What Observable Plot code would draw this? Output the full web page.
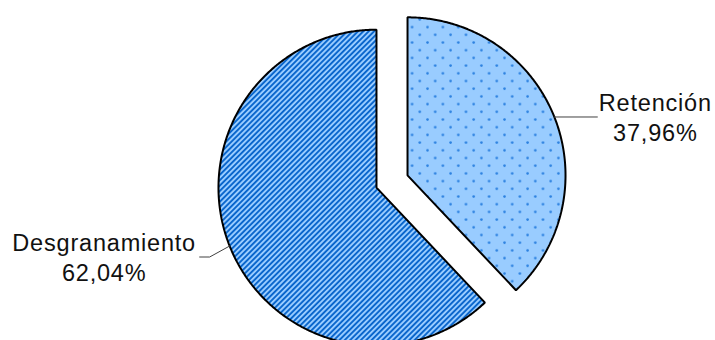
<!DOCTYPE html>
<html><head><meta charset="utf-8">
<script src="https://cdn.jsdelivr.net/npm/d3@7"></script>
<script src="https://cdn.jsdelivr.net/npm/@observablehq/plot@0.6"></script>
<style>html,body{margin:0;padding:0;background:#fff;overflow:hidden}</style>
</head><body><div id="chart"></div>
<script>
// ---- data ----
const categories = ["Retención", "Desgranamiento"];
const values = [37.96, 62.04];
const valueLabels = ["37,96%", "62,04%"];

// ---- layout (pixels) ----
const W = 715, H = 340;
const C = [391.5, 181], R = 158, EXPLODE = 16.7;
const fills = ["url(#dots)", "url(#stripes)"];
const leaderShape = [
  [[0, 0], [43, 0]],
  [[0, 0], [-20, 11], [-30, 11]]
];
const labelOffset = [[101, -27], [-125.5, -16]];

const total = d3.sum(values);
let acc = 0;
const slices = categories.map((name, i) => {
  const a0 = acc / total * 2 * Math.PI;
  acc += values[i];
  const a1 = acc / total * 2 * Math.PI;
  const mid = (a0 + a1) / 2;
  const cx = C[0] + EXPLODE * Math.sin(mid), cy = C[1] - EXPLODE * Math.cos(mid);
  const pts = [{x: cx, y: cy}];
  const n = Math.ceil((a1 - a0) / (Math.PI / 360));
  for (let k = 0; k <= n; k++) {
    const a = a0 + (a1 - a0) * k / n;
    pts.push({x: cx + R * Math.sin(a), y: cy - R * Math.cos(a)});
  }
  const ax = cx + R * Math.sin(mid), ay = cy - R * Math.cos(mid);
  const leader = leaderShape[i].map(([dx, dy]) => ({x: ax + dx, y: ay + dy}));
  const label = {x: ax + labelOffset[i][0], y: ay + labelOffset[i][1], text: name + "\n" + valueLabels[i]};
  return {name, i, pts, leader, label};
});

const marks = [];
slices.forEach(s => {
  marks.push(Plot.line(s.pts, {x: "x", y: "y", curve: "linear-closed", fill: fills[s.i], stroke: "#000", strokeWidth: 2, strokeLinejoin: "miter"}));
});
slices.forEach(s => {
  marks.push(Plot.line(s.leader, {x: "x", y: "y", stroke: "#404040", strokeWidth: 1}));
});
marks.push(Plot.text(slices.map(s => s.label), {x: "x", y: "y", text: "text", lineAnchor: "top", textAnchor: "middle", lineHeight: 1.27, fontSize: 23.5, fill: "#111"}));

const svg = Plot.plot({
  width: W, height: H,
  marginTop: 0, marginRight: 0, marginBottom: 0, marginLeft: 0,
  style: {fontFamily: "'Liberation Sans', Arial, sans-serif", background: "#fff"},
  x: {domain: [0, W], range: [0, W], axis: null},
  y: {domain: [0, H], range: [0, H], axis: null},
  marks
});

const defs = d3.select(svg).insert("defs", ":first-child");
const st = defs.append("pattern").attr("id", "stripes").attr("patternUnits", "userSpaceOnUse")
  .attr("width", 3.8).attr("height", 3.8).attr("patternTransform", "rotate(45)");
st.append("rect").attr("width", 3.8).attr("height", 3.8).attr("fill", "#99ccff");
st.append("rect").attr("width", 1.9).attr("height", 3.8).attr("fill", "#0a66cc");
const dt = defs.append("pattern").attr("id", "dots").attr("patternUnits", "userSpaceOnUse")
  .attr("width", 15.4).attr("height", 15.4).attr("x", 2).attr("y", 2);
dt.append("rect").attr("width", 15.4).attr("height", 15.4).attr("fill", "#99ccff");
dt.append("circle").attr("cx", 1.5).attr("cy", 1.5).attr("r", 1.3).attr("fill", "#2a80e0");
dt.append("circle").attr("cx", 9.2).attr("cy", 9.2).attr("r", 1.3).attr("fill", "#2a80e0");

d3.select(svg).selectAll("text").attr("letter-spacing", "0.8px");
document.getElementById("chart").appendChild(svg);
</script>
</body></html>
